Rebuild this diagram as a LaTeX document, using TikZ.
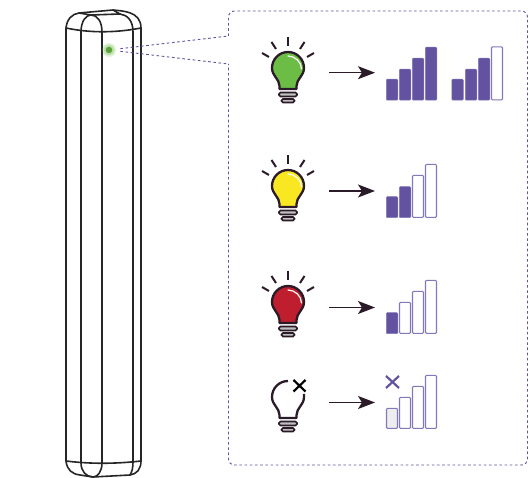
\documentclass[tikz,border=0pt]{standalone}
\usepackage{xcolor}
\usepackage{tikz}
\usetikzlibrary{arrows.meta, positioning}
\definecolor{inkdark}{HTML}{2B1A28}
\definecolor{violet}{HTML}{6252A0}
\definecolor{violetlight}{HTML}{8477BB}
\definecolor{ledgreen}{HTML}{6CBD45}
\definecolor{lampyellow}{HTML}{F9E721}
\definecolor{lampred}{HTML}{BE1E2D}
\tikzstyle{barfull} = [rectangle, fill=violet, draw=violetlight, line width=0.5pt, anchor=south,
    rounded corners=1pt, minimum width=11.5pt, inner sep=0pt]
\tikzstyle{barempty} = [rectangle, fill=white, draw=violetlight, line width=1.2pt, anchor=south,
    rounded corners=1pt, minimum width=11pt, inner sep=0pt]
\tikzstyle{barnone} = [barempty, fill=black!7]
\tikzstyle{device} = [draw=black!85, line width=1.6pt, line join=round]
\tikzstyle{outline} = [draw=inkdark, line width=2.3pt, line join=round]
\tikzstyle{ray} = [draw=inkdark, line width=2pt]
\tikzstyle{callout} = [draw=violet, line width=0.9pt, dash pattern=on 2.6pt off 2.6pt]
\tikzstyle{lampslot} = [rectangle, minimum width=82pt, minimum height=40pt, inner sep=0pt]
\tikzstyle{line} = [draw=inkdark, line width=1.3pt, -{Stealth[length=17pt,width=13pt,inset=4pt]}]
% base of a lamp, origin at the centre of the glass
\newcommand{\lampbase}{
  \draw [draw=inkdark, fill=black!25, line width=1.7pt, rounded corners=1.5pt] (-9,24.5) rectangle (9,28.5);
  \draw [draw=inkdark, fill=black!25, line width=1.7pt, rounded corners=1.5pt] (-6.5,31) rectangle (6.5,34.5);
}
\newcommand{\lamprays}{
  \path [ray] (0,-31) -- (0,-22);
  \path [ray] (-16.5,-26) -- (-12,-19);
  \path [ray] (16.5,-26) -- (12,-19);
  \path [ray] (-26,-15) -- (-19,-11);
  \path [ray] (26,-15) -- (19,-11);
}
% lamp: x, y, colour
\newcommand{\lampicon}[3]{
  \begin{scope}[shift={(#1,#2)}]
    \lamprays
    \path [outline, fill=#3] (-8.5,21) -- (-8.5,18) .. controls (-8.5,11) and (-16,8) .. (-16,0)
      .. controls (-16,-8.84) and (-8.84,-16) .. (0,-16) .. controls (8.84,-16) and (16,-8.84) .. (16,0)
      .. controls (16,8) and (8.5,11) .. (8.5,18) -- (8.5,21) -- cycle;
    \draw [white, line width=1.2pt, line cap=round] (0,-12) .. controls (7,-12) and (13.5,-6) .. (13.5,1);
    \lampbase
  \end{scope}
}
\begin{document}
\begin{tikzpicture}[x=1pt, y=-1pt]
      \useasboundingbox (0,0) rectangle (531,478);
      % Device
      \path [device] (66,28) -- (66,461);
      \path [device] (141,28) -- (141,461);
      \path [device] (81,32) -- (81,463);
      \path [device] (102,32) -- (102,463);
      \path [device] (133,32) -- (133,462);
      \path [device] (66,28) .. controls (67,19) and (72,14) .. (79,13) -- (113,10) .. controls (122,11) and (141,11) .. (141,28);
      \path [device] (66,28) .. controls (90,33) and (115,33) .. (141,28);
      \path [device] (81,32) .. controls (81,21) and (86,15) .. (91,15) .. controls (97,15) and (102,21) .. (102,32);
      \path [device] (79,13) -- (91,15) -- (120,14) -- (113,10);
      \path [device] (120,14) .. controls (127,15) and (133,20) .. (133,32);
      \path [device] (66,461) .. controls (90,464) and (115,464) .. (141,461);
      \path [device] (66,461) .. controls (67,470) and (72,474) .. (80,475) -- (93,477) -- (130,475) .. controls (137,474) and (141,469) .. (141,461);
      \path [device] (81,463) .. controls (81,471) and (86,477) .. (93,477) .. controls (98,477) and (102,471) .. (102,463);
      \path [device] (133,462) .. controls (133,468) and (132,472) .. (130,475);
      % Indicator
      \fill [ledgreen, opacity=0.2] (109,50) circle (7);
      \fill [ledgreen, opacity=0.3] (109,50) circle (5.5);
      \node [circle, fill=ledgreen!85!black, minimum size=6.5pt, inner sep=0pt] (led) at (109,50) {};
      % Panel
      \coordinate (panelupper) at (228.5,36);
      \coordinate (panellower) at (228.5,64);
      \path [callout, rounded corners=6pt] (panelupper) -- (228.5,11) -- (527.5,11) -- (527.5,465) -- (228.5,465) -- (panellower);
      \path [callout, shorten <=8pt] (led) -- (panelupper);
      \path [callout, shorten <=8pt] (led) -- (panellower);
      % Lamps
      \lampicon{288}{68}{ledgreen}
      \lampicon{288}{186}{lampyellow}
      \lampicon{288}{302}{lampred}
      \begin{scope}[shift={(288,397)}]
        \path [outline] (0,-16) .. controls (-8.84,-16) and (-16,-8.84) .. (-16,0)
          .. controls (-16,8) and (-8.5,11) .. (-8.5,18) -- (-8.5,21) -- (8.5,21) -- (8.5,18)
          .. controls (8.5,11) and (16,8) .. (16,0) -- (16,-3);
        \lampbase
      \end{scope}
      \node [lampslot] (lampfull) at (288,72.7) {};
      \node [lampslot] (lamphalf) at (288,191) {};
      \node [lampslot] (lamplow) at (288,307.5) {};
      \node [lampslot] (lampoff) at (288,402.5) {};
      \coordinate (barsfull) at (375,72.7);
      \coordinate (barshalf) at (375,191);
      \coordinate (barslow) at (375,307.5);
      \coordinate (barsoff) at (375,402.5);
      % Bars
      \foreach \x/\h/\sty in {392/21/barfull, 405/31/barfull, 418/42/barfull, 431/53/barfull,
          457.5/21/barfull, 471/31/barfull, 484/42/barfull, 497/53/barempty}
        \node [\sty, minimum height=\h pt] (full\x) at (\x,100.5) {};
      \foreach \x/\h/\sty in {392/21/barfull, 405/31/barfull, 418/42/barempty, 431/53/barempty}
        \node [\sty, minimum height=\h pt] (half\x) at (\x,218) {};
      \foreach \x/\h/\sty in {392/21/barfull, 405/31/barempty, 418/42/barempty, 431/53/barempty}
        \node [\sty, minimum height=\h pt] (low\x) at (\x,334) {};
      \foreach \x/\h/\sty in {392/20/barnone, 405/31/barempty, 418/42/barempty, 431/53/barempty}
        \node [\sty, minimum height=\h pt] (off\x) at (\x,429) {};
      % Crosses
      \draw [black, line width=2.2pt] (293.5,380) -- (305.5,391.5) (305.5,380) -- (293.5,391.5);
      \draw [violet, line width=2.2pt] (386,376) -- (399,388) (399,376) -- (386,388);
      % Draw edges
      \path [line] (lampfull) -- (barsfull);
      \path [line] (lamphalf) -- (barshalf);
      \path [line] (lamplow) -- (barslow);
      \path [line] (lampoff) -- (barsoff);
    \end{tikzpicture}
\end{document}
